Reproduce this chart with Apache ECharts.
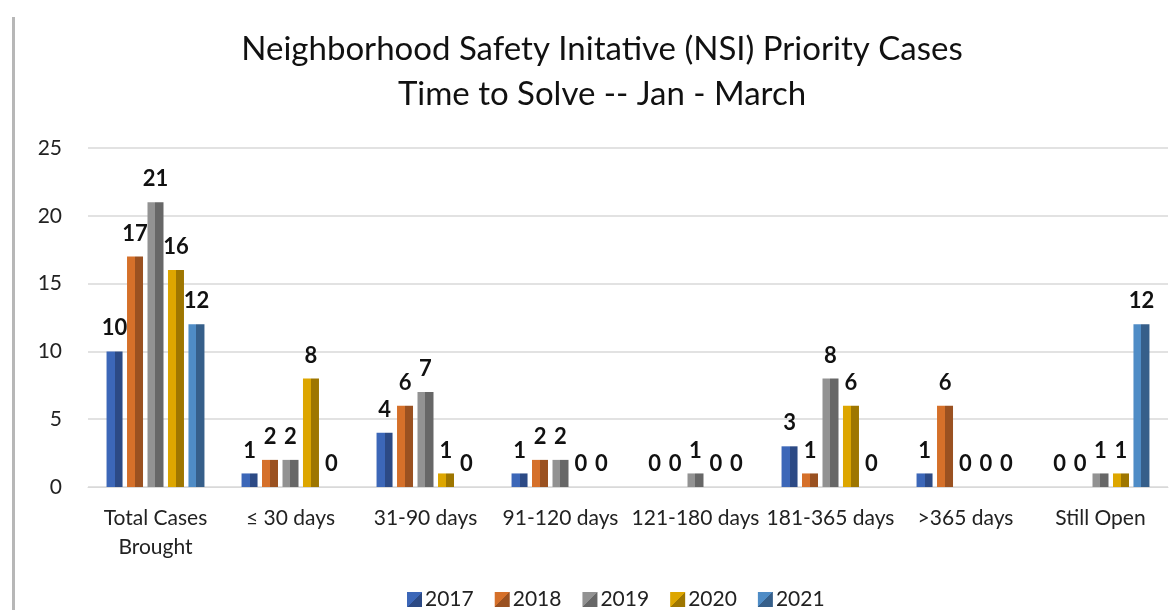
<!DOCTYPE html>
<html>
<head>
<meta charset="utf-8">
<script src="https://cdn.jsdelivr.net/npm/echarts@6/dist/echarts.min.js"></script>
<style>
  html, body { margin: 0; padding: 0; background: #fff; }
  #chart { width: 1172px; height: 610px; }
</style>
</head>
<body>
<div id="chart"></div>
<script>
const categories = ['Total Cases\nBrought', '≤ 30 days', '31-90 days', '91-120 days', '121-180 days', '181-365 days', '>365 days', 'Still Open'];
const years = ['2017', '2018', '2019', '2020', '2021'];
const cases2017 = [10, 1, 4, 1, 0, 3, 1, 0];
const cases2018 = [17, 2, 6, 2, 0, 1, 6, 0];
const cases2019 = [21, 2, 7, 2, 1, 8, 0, 1];
const cases2020 = [16, 8, 1, 0, 0, 6, 0, 1];
const cases2021 = [12, 0, 0, 0, 0, 0, 0, 12];
const yTicks = [0, 5, 10, 15, 20, 25];

// light face / dark face for the bevelled look
const palette = [
  ['#3c67b8', '#2c4a85'],
  ['#d5702a', '#9a5121'],
  ['#929292', '#676767'],
  ['#dda600', '#9e7600'],
  ['#4f8cc6', '#365f8a']
];
const seriesData = [cases2017, cases2018, cases2019, cases2020, cases2021];

function faceGradient(c, diag) {
  return {
    type: 'linear', x: 0, y: 0, x2: 1, y2: diag ? 1 : 0,
    colorStops: [
      { offset: 0, color: c[0] }, { offset: 0.5, color: c[0] },
      { offset: 0.5, color: c[1] }, { offset: 1, color: c[1] }
    ]
  };
}

const font = 'Lato, "Open Sans", sans-serif';
const chart = echarts.init(document.getElementById('chart'));

chart.setOption({
  animation: false,
  title: {
    text: 'Neighborhood Safety Initative (NSI) Priority Cases\nTime to Solve -- Jan - March',
    left: 597, top: 22, textAlign: 'center',
    textStyle: { fontFamily: font, fontSize: 33, fontWeight: 'normal', color: '#111', lineHeight: 45 }
  },
  legend: {
    bottom: -5, left: 402,
    itemWidth: 15, itemHeight: 15, itemGap: 21,
    icon: 'rect',
    textStyle: { fontFamily: font, fontSize: 21, color: '#222', padding: [0, 0, 0, -2] },
    data: years.map((y, i) => ({ name: y, itemStyle: { color: faceGradient(palette[i], true) } }))
  },
  grid: { left: 88, right: 4, top: 148, bottom: 123 },
  xAxis: {
    type: 'category',
    data: categories,
    axisTick: { show: false },
    axisLine: { lineStyle: { color: '#d9d9d9', width: 1 } },
    axisLabel: { fontFamily: font, fontSize: 21, color: '#222', margin: 17, lineHeight: 29, interval: 0 }
  },
  yAxis: {
    type: 'value', min: 0, max: 25, interval: 5,
    axisLabel: { fontFamily: font, fontSize: 21, color: '#222', margin: 26,
      formatter: v => yTicks.includes(v) ? String(v) : '' },
    splitLine: { lineStyle: { color: '#d9d9d9', width: 1.5 } }
  },
  series: years.map((y, i) => ({
    name: y,
    type: 'bar',
    data: seriesData[i],
    barWidth: 16,
    barGap: '28%',
    itemStyle: { color: faceGradient(palette[i], false) },
    label: {
      show: true, position: 'top', distance: 12,
      fontFamily: font, fontSize: 22, fontWeight: 'bold', color: '#111'
    }
  })),
  graphic: [{
    type: 'rect', left: 12, top: 17,
    shape: { width: 3, height: 600 },
    style: { fill: '#b7b7b7' }
  }]
});
</script>
</body>
</html>
